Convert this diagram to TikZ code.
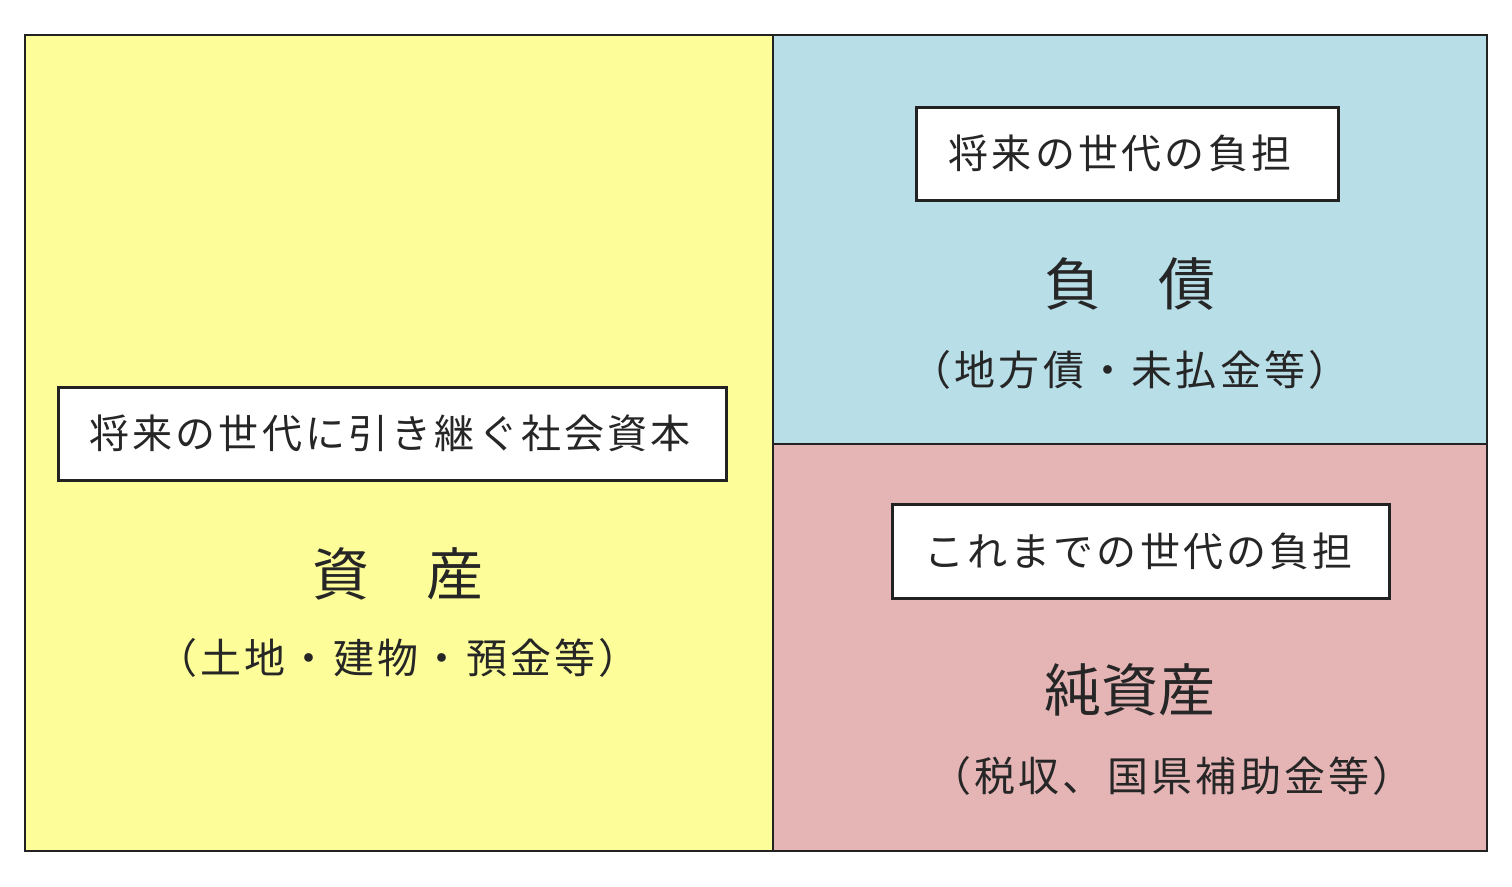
\documentclass[tikz,border=0pt]{standalone}
\usepackage{fontspec}
\newfontfamily\jp{Noto Sans CJK JP}
\newfontfamily\jpw[LetterSpace=8]{Noto Sans CJK JP}
\definecolor{yel}{HTML}{FDFD99}
\definecolor{blu}{HTML}{B8DEE8}
\definecolor{pnk}{HTML}{E5B5B6}
\definecolor{edge}{HTML}{222222}
\tikzset{
  panel/.style={draw=edge, line width=2.5pt},
  lbox/.style={draw=edge, fill=white, line width=3pt, inner sep=0pt},
  boxtxt/.style={font=\jpw\fontsize{40}{40}\selectfont, text=black!85},
  bigtxt/.style={font=\jp\fontsize{57}{57}\selectfont, text=black!85},
  subtxt/.style={font=\jpw\fontsize{41}{41}\selectfont, text=black!85},
}
\begin{document}
\begin{tikzpicture}[x=1pt,y=-1pt]
\useasboundingbox (0,0) rectangle (1512,886);
\fill[white] (0,0) rectangle (1512,886);
\fill[yel] (25,35) rectangle (773,851);
\fill[blu] (773,35) rectangle (1487,444);
\fill[pnk] (773,444) rectangle (1487,851);
\draw[panel] (25,35) rectangle (1487,851);
\draw[panel] (773,35) -- (773,851);
\draw[panel] (773,444) -- (1487,444);
% left
\node[lbox, minimum width=668pt, minimum height=93pt] (b1) at (392,433.5) {};
\node[boxtxt] (t1) at ([xshift=-2pt]b1.center) {将来の世代に引き継ぐ社会資本};
\node[bigtxt] (a1) at (398,574) {資　産};
\node[subtxt] (s1) at (398,658) {（土地・建物・預金等）};
% blue
\node[lbox, minimum width=422pt, minimum height=93pt] (b2) at (1127,153.5) {};
\node[boxtxt] (t2) at ([xshift=-7pt]b2.center) {将来の世代の負担};
\node[bigtxt] (a2) at (1130,284) {負　債};
\node[subtxt] (s2) at (1130,370) {（地方債・未払金等）};
% pink
\node[lbox, minimum width=497pt, minimum height=94pt] (b3) at (1140.5,551) {};
\node[boxtxt] (t3) at ([xshift=-2pt]b3.center) {これまでの世代の負担};
\node[bigtxt] (a3) at (1130,690) {純資産};
\node[subtxt] (s3) at (1172,776) {（税収、国県補助金等）};
\end{tikzpicture}
\end{document}
